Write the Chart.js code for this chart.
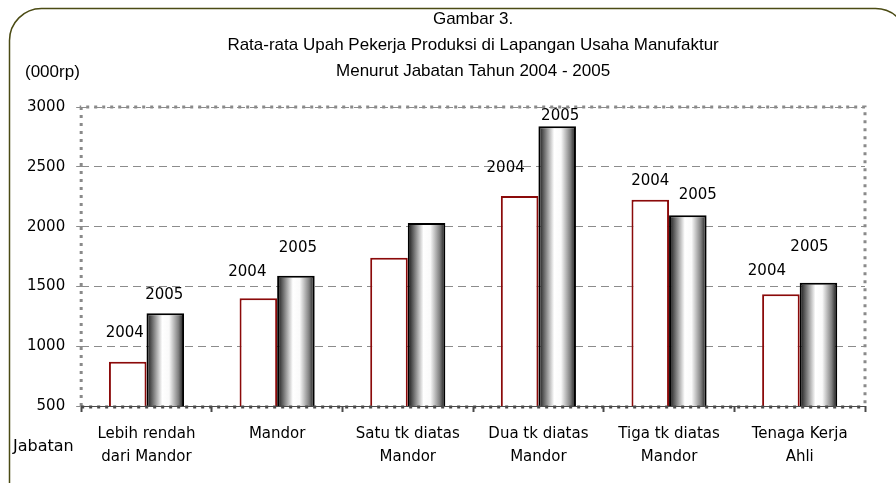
<!DOCTYPE html>
<html>
<head>
<meta charset="utf-8">
<script src="https://cdn.jsdelivr.net/npm/chart.js@4/dist/chart.umd.min.js"></script>
<style>
  html, body { margin: 0; padding: 0; background: #fff; }
  #wrap { width: 896px; height: 483px; }
</style>
</head>
<body>
<div id="wrap"><canvas id="wageChart" width="896" height="483"></canvas></div>
<script>
// data (thousand rupiah)
const categories = [
    ['Lebih rendah', 'dari Mandor'],
    'Mandor',
    ['Satu tk diatas', 'Mandor'],
    ['Dua tk diatas', 'Mandor'],
    ['Tiga tk diatas', 'Mandor'],
    ['Tenaga Kerja', 'Ahli']
];
const wages2004 = [870, 1400, 1740, 2255, 2225, 1435];
const wages2005 = [1275, 1590, 2030, 2840, 2095, 1530];
const yMin = 500, yMax = 3000, yStep = 500;

// where the year labels sit relative to the top of each bar (null = no label)
const labelShift2004 = [[-3, -29], [-11, -26], null, [-14, -28], [0, -19], [-14, -23]];
const labelShift2005 = [[-1, -18], [2, -28], null, [3, -10], [10, -20], [-9, -36]];

const CAT_PCT = 0.575;

// cylinder look for the 2005 bars
function cylinderFill(ctx) {
    const chart = ctx.chart;
    const xs = chart.scales.x;
    if (!xs || ctx.dataIndex === undefined) return '#bbb';
    const center = xs.getPixelForValue(ctx.dataIndex);
    const barW = (xs.width / categories.length) * CAT_PCT / 2;
    if (!isFinite(center) || !isFinite(barW) || barW <= 0) return '#bbb';
    const g = chart.ctx.createLinearGradient(center, 0, center + barW, 0);
    g.addColorStop(0, '#111');
    g.addColorStop(0.15, '#666');
    g.addColorStop(0.42, '#fff');
    g.addColorStop(0.6, '#fafafa');
    g.addColorStop(0.85, '#808080');
    g.addColorStop(1, '#111');
    return g;
}

const framePlugin = {
    id: 'frame',
    beforeDraw(chart) {
        const c = chart.ctx;
        c.save();
        c.strokeStyle = '#4b4b14';
        c.lineWidth = 1.5;
        c.beginPath();
        c.roundRect(9.5, 8.5, 898, 510, 32);
        c.stroke();
        c.restore();
    }
};

const axisLinesPlugin = {
    id: 'axisLines',
    afterDatasetsDraw(chart) {
        const { left, right, top, bottom } = chart.chartArea;
        const c = chart.ctx;
        c.save();
        // dotted frame of the plot area
        c.strokeStyle = '#8a8a8a';
        c.lineWidth = 3;
        c.setLineDash([3, 5]);
        c.beginPath();
        c.moveTo(left, bottom);
        c.lineTo(left, top);
        c.lineTo(right, top);
        c.lineTo(right, bottom);
        c.stroke();
        // category axis
        c.strokeStyle = '#4a4a4a';
        c.setLineDash([]);
        c.lineWidth = 1;
        c.beginPath();
        c.moveTo(left, bottom + 0.5);
        c.lineTo(right, bottom + 0.5);
        c.stroke();
        c.lineWidth = 3;
        c.setLineDash([3, 5]);
        c.beginPath();
        c.moveTo(left, bottom + 1);
        c.lineTo(right, bottom + 1);
        c.stroke();
        c.restore();
    }
};

const yearLabelPlugin = {
    id: 'yearLabels',
    afterDatasetsDraw(chart) {
        const c = chart.ctx;
        c.save();
        c.font = '15px "DejaVu Sans"';
        c.fillStyle = '#000';
        c.textAlign = 'center';
        c.textBaseline = 'middle';
        [labelShift2004, labelShift2005].forEach((shifts, di) => {
            const meta = chart.getDatasetMeta(di);
            const text = chart.data.datasets[di].label;
            meta.data.forEach((bar, i) => {
                const s = shifts[i];
                if (!s) return;
                c.fillText(text, bar.x + s[0], bar.y + s[1]);
            });
        });
        c.restore();
    }
};

const axisTitlesPlugin = {
    id: 'axisTitles',
    afterDraw(chart) {
        const c = chart.ctx;
        c.save();
        c.fillStyle = '#000';
        c.textBaseline = 'middle';
        c.textAlign = 'left';
        c.font = '17px "Liberation Sans"';
        c.fillText('(000rp)', 25, 72);
        c.font = '16px "DejaVu Sans"';
        c.fillText('Jabatan', 13, 447);
        c.restore();
    }
};

new Chart(document.getElementById('wageChart'), {
    type: 'bar',
    data: {
        labels: categories,
        datasets: [
            {
                label: '2004',
                data: wages2004,
                backgroundColor: '#fff',
                borderColor: '#8b0a0a',
                borderWidth: 2,
                barPercentage: 1,
                categoryPercentage: CAT_PCT
            },
            {
                label: '2005',
                data: wages2005,
                backgroundColor: cylinderFill,
                borderColor: '#000',
                borderWidth: 2,
                barPercentage: 1,
                categoryPercentage: CAT_PCT
            }
        ]
    },
    options: {
        responsive: false,
        animation: false,
        devicePixelRatio: 1,
        layout: { padding: { left: 16, right: 31, top: 6, bottom: 4 } },
        scales: {
            x: {
                border: { display: false },
                grid: {
                    drawOnChartArea: false,
                    drawTicks: true,
                    tickLength: 6,
                    tickColor: '#4a4a4a',
                    tickWidth: 2
                },
                ticks: {
                    color: '#000',
                    font: { family: 'DejaVu Sans', size: 15, lineHeight: 1.5 },
                    padding: 11,
                    maxRotation: 0,
                    autoSkip: false
                }
            },
            y: {
                min: yMin,
                max: yMax,
                border: { display: false, dash: [8, 5] },
                grid: {
                    color: (ctx) => (ctx.tick && (ctx.tick.value === yMin)) ? 'rgba(0,0,0,0)' : '#8c8c8c',
                    lineWidth: 1,
                    tickLength: 5,
                    tickColor: '#8c8c8c'
                },
                ticks: {
                    stepSize: yStep,
                    color: '#000',
                    font: { family: 'DejaVu Sans', size: 15 },
                    padding: 11,
                    callback: (v) => String(v)
                }
            }
        },
        plugins: {
            legend: { display: false },
            tooltip: { enabled: false },
            title: {
                display: true,
                fullSize: false,
                text: [
                    'Gambar 3.',
                    'Rata-rata Upah Pekerja Produksi di Lapangan Usaha Manufaktur',
                    'Menurut Jabatan Tahun 2004 - 2005'
                ],
                color: '#000',
                font: { family: 'Liberation Sans', size: 17, weight: 'normal', lineHeight: 1.53 },
                padding: { top: 0, bottom: 23 }
            }
        }
    },
    plugins: [framePlugin, axisLinesPlugin, yearLabelPlugin, axisTitlesPlugin]
});
</script>
</body>
</html>
